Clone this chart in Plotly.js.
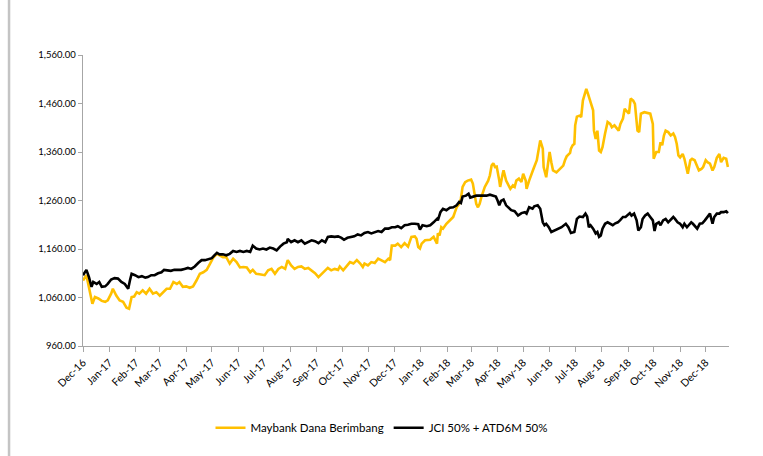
<!DOCTYPE html>
<html>
<head>
<meta charset="utf-8">
<script src="https://cdn.plot.ly/plotly-3.0.1.min.js"></script>
<style>html,body{margin:0;padding:0;background:#fff;}#chart{width:763px;height:456px;}</style>
</head>
<body>
<div id="chart"></div>
<script>
const seriesNames = ["Maybank Dana Berimbang", "JCI 50% + ATD6M 50%"];

const goldDates = ["2016-12-01","2016-12-05","2016-12-12","2016-12-15","2016-12-19","2016-12-23","2016-12-27","2016-12-30","2017-01-03","2017-01-05","2017-01-09","2017-01-13","2017-01-17","2017-01-21","2017-01-24","2017-01-27","2017-01-30","2017-02-02","2017-02-05","2017-02-09","2017-02-13","2017-02-17","2017-02-21","2017-02-25","2017-03-01","2017-03-05","2017-03-09","2017-03-13","2017-03-17","2017-03-21","2017-03-24","2017-03-28","2017-04-01","2017-04-05","2017-04-09","2017-04-13","2017-04-17","2017-04-21","2017-04-25","2017-04-29","2017-05-03","2017-05-07","2017-05-10","2017-05-14","2017-05-18","2017-05-22","2017-05-26","2017-05-30","2017-06-03","2017-06-07","2017-06-11","2017-06-15","2017-06-18","2017-06-22","2017-06-26","2017-07-02","2017-07-06","2017-07-10","2017-07-14","2017-07-18","2017-07-22","2017-07-26","2017-07-29","2017-08-02","2017-08-06","2017-08-10","2017-08-14","2017-08-18","2017-08-22","2017-08-26","2017-08-30","2017-09-03","2017-09-07","2017-09-11","2017-09-14","2017-09-18","2017-09-22","2017-09-26","2017-09-28","2017-10-02","2017-10-06","2017-10-10","2017-10-14","2017-10-18","2017-10-22","2017-10-25","2017-10-27","2017-10-31","2017-11-04","2017-11-08","2017-11-12","2017-11-16","2017-11-20","2017-11-24","2017-11-26","2017-11-28","2017-12-02","2017-12-05","2017-12-09","2017-12-13","2017-12-17","2017-12-21","2017-12-25","2017-12-27","2017-12-29","2017-12-31","2018-01-02","2018-01-06","2018-01-12","2018-01-16","2018-01-20","2018-01-21","2018-01-23","2018-01-25","2018-01-27","2018-01-31","2018-02-04","2018-02-08","2018-02-10","2018-02-12","2018-02-15","2018-02-17","2018-02-19","2018-02-22","2018-02-25","2018-03-01","2018-03-03","2018-03-05","2018-03-07","2018-03-09","2018-03-11","2018-03-13","2018-03-17","2018-03-21","2018-03-23","2018-03-25","2018-03-27","2018-03-29","2018-03-31","2018-04-03","2018-04-04","2018-04-07","2018-04-08","2018-04-11","2018-04-13","2018-04-16","2018-04-19","2018-04-21","2018-04-23","2018-04-26","2018-04-29","2018-05-01","2018-05-04","2018-05-05","2018-05-08","2018-05-11","2018-05-13","2018-05-17","2018-05-19","2018-05-21","2018-05-24","2018-05-25","2018-05-28","2018-05-30","2018-06-01","2018-06-03","2018-06-05","2018-06-09","2018-06-13","2018-06-17","2018-06-19","2018-06-21","2018-06-25","2018-06-26","2018-06-28","2018-06-30","2018-07-01","2018-07-03","2018-07-06","2018-07-08","2018-07-10","2018-07-12","2018-07-14","2018-07-16","2018-07-18","2018-07-20","2018-07-22","2018-07-23","2018-07-25","2018-07-27","2018-07-29","2018-07-31","2018-08-02","2018-08-05","2018-08-08","2018-08-11","2018-08-13","2018-08-16","2018-08-19","2018-08-21","2018-08-23","2018-08-26","2018-08-28","2018-08-31","2018-09-02","2018-09-04","2018-09-07","2018-09-09","2018-09-12","2018-09-14","2018-09-16","2018-09-20","2018-09-24","2018-09-27","2018-09-30","2018-10-01","2018-10-04","2018-10-07","2018-10-09","2018-10-11","2018-10-13","2018-10-15","2018-10-18","2018-10-21","2018-10-24","2018-10-26","2018-10-28","2018-10-30","2018-11-01","2018-11-04","2018-11-06","2018-11-08","2018-11-10","2018-11-13","2018-11-15","2018-11-18","2018-11-21","2018-11-23","2018-11-26","2018-11-28","2018-12-01","2018-12-03","2018-12-06","2018-12-09","2018-12-11","2018-12-14","2018-12-17","2018-12-19","2018-12-22","2018-12-25","2018-12-27"];
const goldValues = [1095,1106,1047,1061,1058,1053,1051,1054,1068,1078,1064,1054,1051,1039,1037,1061,1062,1071,1068,1075,1068,1078,1068,1071,1064,1071,1078,1078,1092,1088,1092,1082,1083,1080,1083,1095,1109,1112,1117,1130,1143,1150,1147,1143,1143,1130,1140,1133,1122,1123,1122,1112,1117,1109,1108,1106,1116,1119,1109,1119,1123,1119,1137,1126,1119,1123,1124,1119,1121,1116,1110,1102,1109,1117,1121,1116,1119,1117,1124,1116,1124,1133,1130,1137,1130,1123,1130,1126,1133,1131,1140,1137,1133,1140,1137,1167,1167,1171,1164,1172,1165,1185,1186,1181,1164,1161,1171,1178,1179,1185,1171,1192,1188,1205,1202,1212,1219,1226,1236,1246,1253,1264,1288,1298,1301,1303,1295,1270,1253,1246,1253,1267,1288,1301,1312,1332,1337,1329,1330,1301,1288,1315,1322,1301,1295,1284,1291,1288,1301,1305,1298,1315,1301,1284,1301,1318,1325,1343,1363,1384,1367,1329,1308,1336,1360,1339,1322,1318,1325,1332,1343,1351,1358,1367,1374,1377,1415,1433,1435,1432,1466,1477,1490,1480,1470,1459,1446,1404,1387,1404,1363,1360,1370,1398,1422,1418,1411,1415,1408,1404,1418,1429,1449,1442,1439,1470,1466,1459,1404,1401,1439,1442,1440,1439,1418,1346,1360,1360,1380,1374,1394,1404,1401,1394,1398,1391,1377,1353,1349,1356,1346,1329,1315,1343,1346,1343,1329,1322,1325,1329,1343,1339,1336,1322,1329,1348,1356,1339,1348,1346,1329];

const jciDates = ["2016-12-01","2016-12-05","2016-12-08","2016-12-11","2016-12-13","2016-12-17","2016-12-20","2016-12-23","2016-12-27","2016-12-30","2017-01-03","2017-01-07","2017-01-11","2017-01-15","2017-01-19","2017-01-23","2017-01-25","2017-01-27","2017-01-31","2017-02-04","2017-02-08","2017-02-12","2017-02-15","2017-02-19","2017-02-23","2017-02-27","2017-03-03","2017-03-06","2017-03-10","2017-03-14","2017-03-18","2017-03-22","2017-03-26","2017-03-30","2017-04-03","2017-04-07","2017-04-11","2017-04-15","2017-04-19","2017-04-23","2017-04-27","2017-05-01","2017-05-04","2017-05-07","2017-05-10","2017-05-14","2017-05-18","2017-05-22","2017-05-26","2017-05-30","2017-06-03","2017-06-07","2017-06-11","2017-06-15","2017-06-18","2017-06-22","2017-06-26","2017-06-30","2017-07-04","2017-07-08","2017-07-12","2017-07-16","2017-07-20","2017-07-24","2017-07-28","2017-07-29","2017-08-02","2017-08-06","2017-08-10","2017-08-14","2017-08-18","2017-08-22","2017-08-26","2017-08-30","2017-09-03","2017-09-07","2017-09-11","2017-09-14","2017-09-18","2017-09-22","2017-09-26","2017-09-30","2017-10-03","2017-10-07","2017-10-11","2017-10-15","2017-10-19","2017-10-23","2017-10-27","2017-10-31","2017-11-04","2017-11-08","2017-11-12","2017-11-16","2017-11-20","2017-11-24","2017-11-28","2017-12-02","2017-12-05","2017-12-09","2017-12-13","2017-12-17","2017-12-21","2017-12-25","2017-12-29","2017-12-31","2018-01-03","2018-01-08","2018-01-12","2018-01-16","2018-01-20","2018-01-21","2018-01-24","2018-01-27","2018-01-31","2018-02-04","2018-02-08","2018-02-12","2018-02-15","2018-02-17","2018-02-19","2018-02-23","2018-02-26","2018-02-28","2018-03-03","2018-03-07","2018-03-11","2018-03-15","2018-03-19","2018-03-23","2018-03-27","2018-03-30","2018-04-01","2018-04-03","2018-04-05","2018-04-08","2018-04-11","2018-04-13","2018-04-17","2018-04-21","2018-04-25","2018-04-29","2018-05-03","2018-05-05","2018-05-08","2018-05-12","2018-05-14","2018-05-18","2018-05-21","2018-05-24","2018-05-26","2018-05-28","2018-05-31","2018-06-03","2018-06-07","2018-06-11","2018-06-15","2018-06-20","2018-06-23","2018-06-26","2018-06-30","2018-07-03","2018-07-06","2018-07-10","2018-07-13","2018-07-15","2018-07-17","2018-07-19","2018-07-22","2018-07-25","2018-07-27","2018-07-29","2018-07-31","2018-08-02","2018-08-05","2018-08-08","2018-08-12","2018-08-14","2018-08-17","2018-08-20","2018-08-23","2018-08-26","2018-08-29","2018-08-31","2018-09-03","2018-09-05","2018-09-08","2018-09-11","2018-09-13","2018-09-16","2018-09-18","2018-09-21","2018-09-24","2018-09-27","2018-09-30","2018-10-02","2018-10-04","2018-10-07","2018-10-09","2018-10-12","2018-10-15","2018-10-18","2018-10-21","2018-10-24","2018-10-26","2018-10-29","2018-11-01","2018-11-04","2018-11-06","2018-11-09","2018-11-11","2018-11-14","2018-11-16","2018-11-19","2018-11-21","2018-11-24","2018-11-27","2018-11-30","2018-12-03","2018-12-06","2018-12-09","2018-12-11","2018-12-14","2018-12-17","2018-12-19","2018-12-22","2018-12-25","2018-12-27"];
const jciValues = [1106,1117,1102,1082,1092,1088,1092,1082,1083,1088,1097,1100,1099,1092,1088,1078,1095,1109,1106,1102,1104,1101,1102,1106,1106,1110,1112,1117,1116,1115,1117,1117,1117,1119,1121,1119,1124,1131,1137,1137,1139,1141,1147,1152,1149,1149,1147,1150,1156,1154,1156,1154,1156,1154,1167,1161,1159,1161,1159,1163,1161,1157,1165,1171,1174,1181,1174,1178,1174,1178,1171,1174,1178,1176,1172,1178,1174,1185,1186,1185,1186,1183,1179,1183,1185,1186,1190,1188,1193,1195,1192,1195,1197,1195,1202,1202,1205,1205,1207,1203,1209,1210,1212,1212,1211,1200,1209,1207,1209,1215,1222,1219,1236,1243,1240,1245,1246,1250,1257,1255,1268,1270,1274,1266,1268,1270,1270,1270,1270,1272,1270,1268,1260,1250,1259,1262,1250,1246,1240,1238,1229,1234,1236,1233,1246,1243,1248,1250,1243,1215,1209,1212,1205,1195,1198,1202,1205,1212,1205,1193,1195,1222,1227,1226,1233,1227,1205,1209,1202,1192,1195,1185,1188,1202,1212,1215,1212,1209,1213,1215,1220,1226,1226,1229,1234,1229,1233,1219,1198,1205,1222,1229,1233,1226,1219,1197,1212,1215,1209,1219,1222,1215,1220,1226,1222,1215,1212,1205,1212,1205,1209,1215,1212,1205,1202,1212,1213,1219,1226,1233,1212,1226,1233,1233,1236,1236,1238,1234];

const tickDates = ["2016-12-01","2017-01-01","2017-02-01","2017-03-01","2017-04-01","2017-05-01","2017-06-01","2017-07-01","2017-08-01","2017-09-01","2017-10-01","2017-11-01","2017-12-01","2018-01-01","2018-02-01","2018-03-01","2018-04-01","2018-05-01","2018-06-01","2018-07-01","2018-08-01","2018-09-01","2018-10-01","2018-11-01","2018-12-01"];
const tickLabels = ["Dec-16","Jan-17","Feb-17","Mar-17","Apr-17","May-17","Jun-17","Jul-17","Aug-17","Sep-17","Oct-17","Nov-17","Dec-17","Jan-18","Feb-18","Mar-18","Apr-18","May-18","Jun-18","Jul-18","Aug-18","Sep-18","Oct-18","Nov-18","Dec-18"];
const yTicks = [960, 1060, 1160, 1260, 1360, 1460, 1560];

const FONT = "Lato, 'Open Sans', 'DejaVu Sans', sans-serif";

const traces = [
  {x: goldDates, y: goldValues, name: seriesNames[0], type: 'scatter', mode: 'lines',
   line: {color: '#FFC000', width: 2.6}},
  {x: jciDates, y: jciValues, name: seriesNames[1], type: 'scatter', mode: 'lines',
   line: {color: '#000000', width: 2.6}}
];

const layout = {
  width: 763, height: 456,
  margin: {l: 83, r: 34, t: 55, b: 110},
  paper_bgcolor: '#ffffff', plot_bgcolor: '#ffffff',
  font: {family: FONT, size: 10, color: '#000000'},
  showlegend: true,
  legend: {orientation: 'h', xref: 'container', yref: 'container', x: 0.5, xanchor: 'center',
           y: 0.062, yanchor: 'middle', font: {family: FONT, size: 11.5, color: '#000'},
           itemwidth: 30, tracegroupgap: 0},
  xaxis: {
    type: 'date', range: ['2016-12-01', '2018-12-28 07:00'],
    tickmode: 'array', tickvals: tickDates, ticktext: tickLabels, tickangle: -45,
    ticks: 'outside', ticklen: 5, tickcolor: '#a6a6a6', tickwidth: 1,
    showline: true, linecolor: '#a6a6a6', linewidth: 1.3,
    showgrid: false, zeroline: false,
    tickfont: {family: FONT, size: 10.5, color: '#000'}
  },
  yaxis: {
    range: [960, 1560], tickmode: 'array', tickvals: yTicks, tickformat: ',.2f',
    ticks: 'outside', ticklen: 4, tickcolor: '#a6a6a6', tickwidth: 1,
    showline: true, linecolor: '#a6a6a6', linewidth: 1.3,
    showgrid: false, zeroline: false,
    tickfont: {family: FONT, size: 9.5, color: '#000'}
  },
  shapes: [
    {type: 'line', xref: 'paper', yref: 'paper', x0: -0.1145, x1: -0.1145, y0: -0.38, y1: 1.2,
     line: {color: '#c4c4c4', width: 2.5}}
  ]
};

Plotly.newPlot('chart', traces, layout, {displayModeBar: false, staticPlot: true});
</script>
</body>
</html>
